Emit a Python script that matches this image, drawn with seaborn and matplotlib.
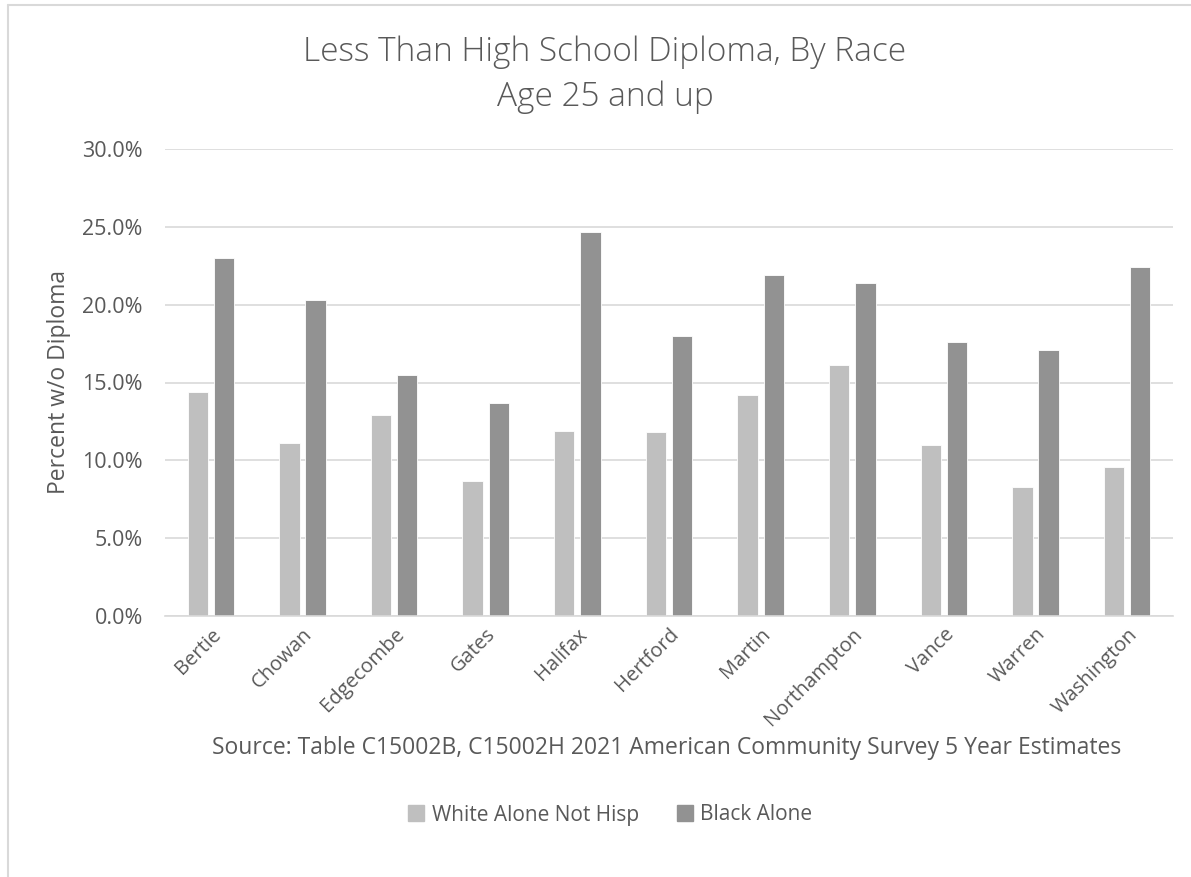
import matplotlib
matplotlib.use("Agg")
import matplotlib.pyplot as plt
import seaborn as sns
import pandas as pd
from matplotlib.lines import Line2D
from matplotlib.ticker import FuncFormatter

counties = ["Bertie", "Chowan", "Edgecombe", "Gates", "Halifax", "Hertford",
            "Martin", "Northampton", "Vance", "Warren", "Washington"]
white_alone = [14.4, 11.1, 12.9, 8.7, 11.9, 11.8, 14.2, 16.1, 11.0, 8.3, 9.6]
black_alone = [23.0, 20.3, 15.5, 13.7, 24.7, 18.0, 21.9, 21.4, 17.6, 17.1, 22.4]
series_names = ["White Alone Not Hisp", "Black Alone"]
yticks = [0, 5, 10, 15, 20, 25, 30]

df = pd.DataFrame({
    "County": counties * 2,
    "Race": [series_names[0]] * len(counties) + [series_names[1]] * len(counties),
    "Pct": white_alone + black_alone,
})

sns.set_theme(style="white")
plt.rcParams['font.family'] = ['Open Sans', 'DejaVu Sans']
text_c = "#595959"
colors = {series_names[0]: "#BFBFBF", series_names[1]: "#929292"}

fig = plt.figure(figsize=(11.91, 8.77), dpi=100)
ax = fig.add_axes([165/1191, 1-616/877, (1173-165)/1191, (616-149)/877])

sns.barplot(data=df, x="County", y="Pct", hue="Race", palette=colors,
            width=0.57, gap=0.22, ax=ax, legend=False, saturation=1,
            edgecolor="white", linewidth=0.6)

ax.set_ylim(0, 30)
ax.set_yticks(yticks)
ax.yaxis.set_major_formatter(FuncFormatter(lambda v, p: f"{v:.1f}%"))
ax.yaxis.grid(True, color="#D9D9D9", linewidth=1.2)
ax.set_axisbelow(True)
for s in ["top", "right", "left"]:
    ax.spines[s].set_visible(False)
ax.spines["bottom"].set_color("#D9D9D9")
ax.spines["bottom"].set_linewidth(1.2)
ax.set_xlim(-0.5, len(counties) - 0.5)
ax.tick_params(axis="y", length=0, labelsize=15.5, colors=text_c, pad=16)
ax.tick_params(axis="x", length=0, labelsize=14.5, colors=text_c, pad=6)
plt.setp(ax.get_xticklabels(), rotation=45, ha="right", va="top", rotation_mode="anchor")
ax.set_xlabel("")
ax.set_ylabel("Percent w/o Diploma", fontsize=16.5, color=text_c, labelpad=8)

fig.text(605/1191, 1-52/877, "Less Than High School Diploma, By Race", ha="center", va="center",
         fontsize=24, color=text_c, fontweight="light")
fig.text(605/1191, 1-97/877, "Age 25 and up", ha="center", va="center",
         fontsize=24, color=text_c, fontweight="light")
fig.text(667/1191, 1-748/877,
         "Source: Table C15002B, C15002H 2021 American Community Survey 5 Year Estimates",
         ha="center", va="center", fontsize=16.5, color=text_c)

handles = [Line2D([], [], marker="s", linestyle="none", markersize=12,
                  markerfacecolor=colors[n], markeredgecolor=colors[n]) for n in series_names]
fig.legend(handles, series_names, loc="center", bbox_to_anchor=(610/1191, 1-815/877),
           ncol=2, frameon=False, fontsize=15, labelcolor=text_c, handletextpad=0.35,
           columnspacing=1.8, handlelength=0.8)

# chart border (left and top edges visible)
fig.add_artist(Line2D([8/1191, 8/1191], [0, 1-5/877], transform=fig.transFigure,
                      color="#D9D9D9", linewidth=1.5))
fig.add_artist(Line2D([8/1191, 1], [1-5/877, 1-5/877], transform=fig.transFigure,
                      color="#D9D9D9", linewidth=1.5))

fig.savefig("out.png", dpi=100, facecolor="white")
